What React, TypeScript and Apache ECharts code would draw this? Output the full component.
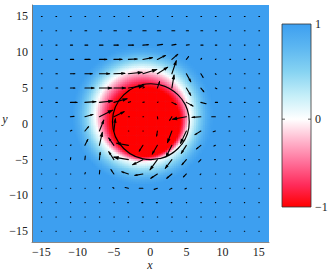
import React, { useEffect, useRef } from "react";
import * as echarts from "echarts";

// ---- axes ----
const xRange = [-16.3, 16.4];
const yRange = [-16.5, 16.6];
const xTickValues = [-15, -10, -5, 0, 5, 10, 15];
const yTickValues = [-15, -10, -5, 0, 5, 10, 15];

// ---- colour scale (evenly spaced from -1 to 1) ----
const colorValues = [-1, -0.75, -0.5, -0.25, 0, 0.25, 0.5, 0.75, 1];
const colorList = ["#ff0000", "#ff2b5a", "#ff6e98", "#ffb5cc", "#ffffff", "#c4eef8", "#86d3f2", "#5db7f1", "#3d9ff0"];
const colorbarTicks = [1, 0, -1];

// ---- scalar field ----
const coreCenter = [-0.6, 0.3]; // saturated red core
const coreRadius = 4.8;
const zeroCenter = [-1.0, 1.2]; // white (0) contour
const zeroRadius = 6.5;
const innerFrac = [0, 0.25, 0.5, 0.75, 1];
const innerVal = [-1, -0.82, -0.55, -0.27, 0];
const outerDist = [0, 0.8, 1.6, 2.4, 3.2];
const outerVal = [0, 0.33, 0.62, 0.86, 1];
const cellStep = 0.25;

// ---- interface circle ----
const circleCenter = [0.1, 0.3];
const circleRadius = 5.3;

// ---- quiver (velocity) ----
const quiverX = [-15, -13, -11, -9, -7, -5, -3, -1, 1, 3, 5, 7, 9, 11, 13, 15];
const quiverY = [15, 13, 11, 9, 7, 5, 3, 1, -1, -3, -5, -7, -9, -11, -13, -15];
const quiverU = [
  [0.1, 0.1, 0.1, 0.1, 0.1, 0.1, 0.1, 0.1, 0.1, 0.1, 0.1, 0.1, 0.1, 0.1, 0.1, 0.1],
  [0.1, 0.1, 0.15, 0.25, 0.3, 0.35, 0.4, 0.45, 0.45, 0.4, 0.3, 0.25, 0.15, 0.1, 0.1, 0.1],
  [0.1, 0.15, 0.3, 0.4, 0.5, 0.6, 0.7, 0.75, 0.7, 0.55, 0.4, 0.3, 0.2, 0.1, 0.1, 0.1],
  [0.1, 0.2, 0.45, 0.7, 1.0, 1.1, 1.2, 1.3, 1.1, 0.8, 0.3, 0.1, 0.1, 0.1, 0.1, 0.1],
  [0.1, 0.2, 0.6, 1.0, 1.4, 1.5, 1.9, 1.9, 1.4, 0.6, 0.6, 0.3, 0.1, 0.1, 0.1, 0.1],
  [0.1, 0.25, 0.6, 1.25, 1.7, 1.6, 2.1, 0.2, 0.3, 0.3, 0.6, 0.4, 0.2, 0.1, 0.1, 0.1],
  [0.1, 0.2, 0.9, 1.5, 1.8, 1.8, 0.3, 0.2, 0.1, 0.6, 0.9, 0.7, 0.3, 0.15, 0.1, 0.1],
  [0.05, 0.1, 0.5, 1.1, 1.8, 1.4, 0.15, 0.1, 0.05, -0.3, -1.9, -1.2, -0.5, -0.2, 0.05, 0.05],
  [0.05, 0.05, 0.2, 0.5, 0.6, 0.2, 0.05, 0.05, -0.1, -0.6, -0.8, -0.8, -0.3, -0.1, 0.05, 0.05],
  [0.05, 0.05, 0.1, 0.4, 0.4, -0.7, -1.6, -0.5, -0.7, -0.8, -0.7, -0.6, -0.2, 0.05, 0.05, 0.05],
  [0.05, 0.05, 0.05, 0.05, 0.1, -0.7, -2.0, -1.4, -1.0, -0.9, -0.6, -0.3, -0.1, 0.05, 0.05, 0.05],
  [0.05, 0.05, 0.05, 0.05, 0.05, -0.4, -0.9, -1.1, -0.9, -0.7, -0.4, -0.1, 0.05, 0.05, 0.05, 0.05],
  [0.05, 0.05, 0.05, 0.05, 0.05, -0.15, -0.45, -0.5, -0.45, -0.3, -0.2, 0.05, 0.05, 0.05, 0.05, 0.05],
  [0.05, 0.05, 0.05, 0.05, 0.05, 0.05, -0.1, -0.15, -0.15, -0.1, 0.05, 0.05, 0.05, 0.05, 0.05, 0.05],
  [0.05, 0.05, 0.05, 0.05, 0.05, 0.05, 0.05, 0.05, 0.05, 0.05, 0.05, 0.05, 0.05, 0.05, 0.05, 0.05],
  [0.05, 0.05, 0.05, 0.05, 0.05, 0.05, 0.05, 0.05, 0.05, 0.05, 0.05, 0.05, 0.05, 0.05, 0.05, 0.05],
];
const quiverV = [
  [0, 0, 0, 0, 0, 0, 0, 0, 0, 0, 0, 0, 0, 0, 0, 0],
  [0, 0, 0, 0, 0, 0, 0, 0, 0, 0, 0, 0, 0, 0, 0, 0],
  [0, 0, 0, 0, 0, 0, 0, 0.05, 0.1, 0.1, 0.05, 0, 0, 0, 0, 0],
  [0, 0, 0, 0, 0, 0, 0.05, 0.25, 0.55, 0.7, 0.4, 0.15, 0.05, 0, 0, 0],
  [0, 0, 0, 0, 0, 0.05, 0.2, 0.6, 0.9, 1.8, -1.1, -0.5, -0.1, 0, 0, 0],
  [0, 0, 0, 0, 0, 0, 0.3, 0.1, 0.9, 1.8, -1.0, -0.5, -0.1, 0, 0, 0],
  [0, 0, 0, 0.1, 0.2, 0.5, 0.1, 0.05, 0.05, -0.3, -0.5, -0.2, 0, 0, 0, 0],
  [0, 0, 0.05, 0.3, 0.9, 0.7, 0, 0, -0.3, -0.5, -0.35, -0.1, 0, 0, 0, 0],
  [0, 0, 0.1, 0.6, 1.5, 1.7, 0, 0, -0.7, -1.6, -1.7, -0.5, -0.1, 0, 0, 0],
  [0, 0, 0.05, 0.8, 1.8, 1.0, 0.3, -0.8, -1.2, -1.6, -1.1, -0.5, -0.1, 0, 0, 0],
  [0, 0, 0.3, 0.5, 1.0, 1.1, 0.35, -0.7, -1.4, -1.2, -0.7, -0.3, 0, 0, 0, 0],
  [0, 0, 0, 0.2, 0.5, 0.6, 0.3, -0.2, -0.6, -0.6, -0.4, -0.1, 0, 0, 0, 0],
  [0, 0, 0, 0, 0.1, 0.1, 0.1, 0, -0.15, -0.15, -0.1, 0, 0, 0, 0, 0],
  [0, 0, 0, 0, 0, 0, 0, 0, 0, 0, 0, 0, 0, 0, 0, 0],
  [0, 0, 0, 0, 0, 0, 0, 0, 0, 0, 0, 0, 0, 0, 0, 0],
  [0, 0, 0, 0, 0, 0, 0, 0, 0, 0, 0, 0, 0, 0, 0, 0],
];

function lookup(xs: number[], ys: number[], t: number): number {
  if (t <= xs[0]) return ys[0];
  for (let i = 1; i < xs.length; i++) {
    if (t <= xs[i]) {
      const f = (t - xs[i - 1]) / (xs[i] - xs[i - 1]);
      return ys[i - 1] + f * (ys[i] - ys[i - 1]);
    }
  }
  return ys[ys.length - 1];
}

function fieldValue(x: number, y: number): number {
  const d1 = Math.hypot(x - coreCenter[0], y - coreCenter[1]) - coreRadius;
  const d0 = Math.hypot(x - zeroCenter[0], y - zeroCenter[1]) - zeroRadius;
  if (d0 >= 0) return lookup(outerDist, outerVal, d0);
  if (d1 <= 0) return -1;
  return lookup(innerFrac, innerVal, d1 / (d1 - d0));
}

function buildField(): number[][] {
  const out: number[][] = [];
  const n = Math.round(16 / cellStep);
  for (let i = -n; i <= n; i++) {
    for (let j = -n; j <= n; j++) {
      const x = i * cellStep;
      const y = j * cellStep;
      const v = fieldValue(x, y);
      if (v < 0.998) out.push([x, y, v]);
    }
  }
  return out;
}

function buildQuiver(): number[][] {
  const out: number[][] = [];
  quiverY.forEach((y, r) => {
    quiverX.forEach((x, c) => {
      out.push([x, y, quiverU[r][c], quiverV[r][c]]);
    });
  });
  return out;
}

const minus = (v: number) => (v < 0 ? "\u2212" + Math.abs(v) : String(v));
const FONT = "Liberation Serif";

export default function App() {
  const ref = useRef<HTMLDivElement>(null);
  useEffect(() => {
    document.body.style.margin = "0";
    const chart = echarts.init(ref.current!, null, { renderer: "svg" });
    const half = cellStep / 2;

    // colourbar geometry
    const cbX = 282, cbY = 24, cbW = 29, cbH = 183;
    const zeroOff = 0.52;
    const cbPos = (v: number) => (v >= 0 ? cbY + (1 - v) * zeroOff * cbH : cbY + (zeroOff + -v * (1 - zeroOff)) * cbH);
    const stops = colorValues
      .map((v, i) => ({ offset: (cbPos(v) - cbY) / cbH, color: colorList[i] }))
      .sort((a, b) => a.offset - b.offset);

    const graphics: any[] = [
      {
        type: "rect",
        shape: { x: cbX, y: cbY, width: cbW, height: cbH },
        style: {
          fill: { type: "linear", x: 0, y: 0, x2: 0, y2: 1, colorStops: stops },
          stroke: "#333",
          lineWidth: 0.8,
        },
        z: 10,
      },
      {
        type: "text",
        x: 150,
        y: 265,
        style: { text: "x", fontFamily: FONT, fontStyle: "italic", fontSize: 12, fill: "#222", align: "center", verticalAlign: "middle" },
      },
      {
        type: "text",
        x: 5,
        y: 119,
        style: { text: "y", fontFamily: FONT, fontStyle: "italic", fontSize: 12, fill: "#222", align: "center", verticalAlign: "middle" },
      },
    ];
    colorbarTicks.forEach((t) => {
      const yy = cbPos(t);
      graphics.push({
        type: "text",
        x: 315,
        y: yy,
        style: { text: minus(t), fontFamily: FONT, fontSize: 12, fill: "#222", align: "left", verticalAlign: "middle" },
        z: 10,
      });
      if (t === 0) {
        graphics.push({ type: "line", shape: { x1: cbX, y1: yy, x2: cbX + 3, y2: yy }, style: { stroke: "#333", lineWidth: 0.8 }, z: 11 });
        graphics.push({ type: "line", shape: { x1: cbX + cbW - 3, y1: yy, x2: cbX + cbW, y2: yy }, style: { stroke: "#333", lineWidth: 0.8 }, z: 11 });
      }
    });

    chart.setOption({
      animation: false,
      grid: {
        left: 32,
        top: 5,
        width: 237,
        height: 237,
        show: true,
        backgroundColor: colorList[colorList.length - 1],
        borderWidth: 0,
      },
      xAxis: {
        type: "value",
        min: xRange[0],
        max: xRange[1],
        axisLine: { show: true, onZero: false, lineStyle: { color: "#888", width: 1 } },
        axisTick: { show: false },
        splitLine: { show: false },
        axisLabel: {
          customValues: xTickValues,
          formatter: (v: number) => minus(v),
          fontFamily: FONT,
          fontSize: 12,
          color: "#222",
          margin: 4,
        },
      },
      yAxis: {
        type: "value",
        min: yRange[0],
        max: yRange[1],
        axisLine: { show: true, onZero: false, lineStyle: { color: "#777", width: 1 } },
        axisTick: { show: false },
        splitLine: { show: false },
        axisLabel: {
          customValues: yTickValues,
          formatter: (v: number) => minus(v),
          fontFamily: FONT,
          fontSize: 12,
          color: "#222",
          margin: 4,
        },
      },
      visualMap: {
        show: false,
        type: "continuous",
        min: -1,
        max: 1,
        dimension: 2,
        seriesIndex: 0,
        inRange: { color: colorList },
      },
      graphic: graphics,
      series: [
        {
          type: "custom",
          name: "field",
          data: buildField(),
          dimensions: ["x", "y", "v"],
          encode: { x: 0, y: 1 },
          clip: true,
          silent: true,
          renderItem: (_p: any, api: any) => {
            const x = api.value(0), y = api.value(1);
            const a = api.coord([x - half, y + half]);
            const b = api.coord([x + half, y - half]);
            return {
              type: "rect",
              shape: { x: a[0] - 0.3, y: a[1] - 0.3, width: b[0] - a[0] + 0.6, height: b[1] - a[1] + 0.6 },
              style: { fill: api.visual("color") },
            };
          },
          z: 1,
        },
        {
          type: "custom",
          name: "interface",
          data: [[circleCenter[0], circleCenter[1], circleRadius]],
          encode: { x: 0, y: 1 },
          silent: true,
          renderItem: (_p: any, api: any) => {
            const c = api.coord([api.value(0), api.value(1)]);
            const s = api.size([api.value(2), api.value(2)]);
            return {
              type: "ellipse",
              shape: { cx: c[0], cy: c[1], rx: s[0], ry: s[1] },
              style: { fill: "none", stroke: "#000", lineWidth: 1.2 },
            };
          },
          z: 2,
        },
        {
          type: "custom",
          name: "velocity",
          data: buildQuiver(),
          dimensions: ["x", "y", "u", "v"],
          encode: { x: 0, y: 1 },
          silent: true,
          renderItem: (_p: any, api: any) => {
            const x = api.value(0), y = api.value(1), u = api.value(2), v = api.value(3);
            const p0 = api.coord([x, y]);
            const p1 = api.coord([x + u, y + v]);
            const dx = p1[0] - p0[0], dy = p1[1] - p0[1];
            const L = Math.hypot(dx, dy);
            const children: any[] = [
              {
                type: "line",
                shape: { x1: p0[0], y1: p0[1], x2: p1[0], y2: p1[1] },
                style: { stroke: "#000", lineWidth: 1.1, lineCap: "round" },
              },
            ];
            if (L > 4) {
              const hl = Math.min(0.32 * L, 5.5);
              const hw = hl * 0.42;
              const ux = dx / L, uy = dy / L;
              const bx = p1[0] - ux * hl, by = p1[1] - uy * hl;
              children.push({
                type: "polygon",
                shape: { points: [[p1[0] + ux, p1[1] + uy], [bx - uy * hw, by + ux * hw], [bx + uy * hw, by - ux * hw]] },
                style: { fill: "#000" },
              });
            }
            return { type: "group", children };
          },
          z: 3,
        },
      ],
    });
    return () => chart.dispose();
  }, []);
  return <div ref={ref} style={{ width: 332, height: 272 }} />;
}
